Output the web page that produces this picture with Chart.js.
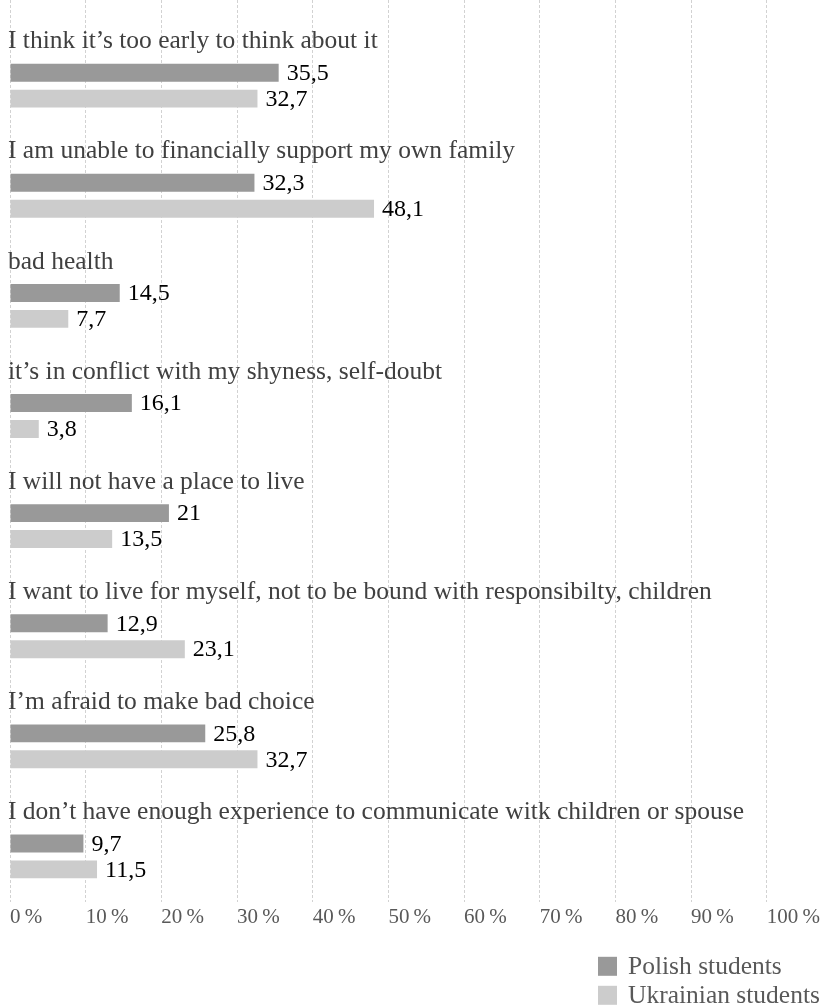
<!DOCTYPE html>
<html>
<head>
<meta charset="utf-8">
<title>Reasons</title>
<script src="https://cdn.jsdelivr.net/npm/chart.js@4/dist/chart.umd.min.js"></script>
<style>
  html, body { margin: 0; padding: 0; background: #fff; }
  #wrap { position: relative; width: 823px; height: 1008px; }
</style>
</head>
<body>
<div id="wrap"><canvas id="reasonsChart"></canvas></div>
<script>
// DATA

const categories = [
  "I think it\u2019s too early to think about it",
  "I am unable to financially support my own family",
  "bad health",
  "it\u2019s in conflict with my shyness, self-doubt",
  "I will not have a place to live",
  "I want to live for myself, not to be bound with responsibilty, children",
  "I\u2019m afraid to make bad choice",
  "I don\u2019t have enough experience to communicate witk children or spouse",
];
const polishStudents = [35.5, 32.3, 14.5, 16.1, 21, 12.9, 25.8, 9.7];
const ukrainianStudents = [32.7, 48.1, 7.7, 3.8, 13.5, 23.1, 32.7, 11.5];
const seriesNames = ["Polish students", "Ukrainian students"];
const seriesColors = ["#999999", "#cccccc"];

const serif = "'Liberation Serif', 'Times New Roman', serif";

// category titles sit above each pair of bars
const categoryTitles = {
  id: "categoryTitles",
  afterDatasetsDraw(chart) {
    const { ctx, chartArea, scales } = chart;
    ctx.save();
    ctx.font = "25.5px " + serif;
    ctx.fillStyle = "#404040";
    ctx.textBaseline = "middle";
    ctx.textAlign = "left";
    categories.forEach((label, i) => {
      ctx.fillText(label, chartArea.left - 2, scales.y.getPixelForValue(i) - 44);
    });
    ctx.restore();
  },
};

// value at the end of every bar, with a decimal comma
const valueLabels = {
  id: "valueLabels",
  afterDatasetsDraw(chart) {
    const { ctx } = chart;
    ctx.save();
    ctx.font = "24px " + serif;
    ctx.fillStyle = "#000000";
    ctx.textBaseline = "middle";
    ctx.textAlign = "left";
    chart.data.datasets.forEach((ds, d) => {
      chart.getDatasetMeta(d).data.forEach((bar, i) => {
        const text = String(ds.data[i].x).replace(".", ",");
        ctx.fillText(text, bar.x + 8, bar.y + 1);
      });
    });
    ctx.restore();
  },
};

// stacked legend in the bottom right corner
const cornerLegend = {
  id: "cornerLegend",
  afterDraw(chart) {
    const { ctx, chartArea } = chart;
    const x = chart.width - 225;
    let y = chartArea.bottom + 55;
    ctx.save();
    ctx.font = "25.5px " + serif;
    ctx.textBaseline = "middle";
    ctx.textAlign = "left";
    chart.data.datasets.forEach((ds) => {
      ctx.fillStyle = ds.backgroundColor;
      ctx.fillRect(x, y, 19, 19);
      ctx.fillStyle = "#595959";
      ctx.fillText(ds.label, x + 30, y + 10);
      y += 29;
    });
    ctx.restore();
  },
};

const ctx = document.getElementById("reasonsChart");

new Chart(ctx, {
  type: "bar",
  data: {
    datasets: [
      {
        label: seriesNames[0],
        data: polishStudents.map((v, i) => ({ x: v, y: i })),
        backgroundColor: seriesColors[0],
        categoryPercentage: 0.4706,
        barPercentage: 0.692,
      },
      {
        label: seriesNames[1],
        data: ukrainianStudents.map((v, i) => ({ x: v, y: i })),
        backgroundColor: seriesColors[1],
        categoryPercentage: 0.4706,
        barPercentage: 0.692,
      },
    ],
  },
  options: {
    indexAxis: "y",
    responsive: true,
    maintainAspectRatio: false,
    animation: false,
    layout: {
      padding: { left: 10, right: 56, top: 0, bottom: 75 },
    },
    scales: {
      x: {
        min: 0,
        max: 100,
        ticks: {
          stepSize: 10,
          align: "start",
          padding: 3,
          color: "#595959",
          font: { family: serif, size: 21 },
          callback: (value) => value + "\u2009%",
        },
        grid: {
          color: "#d2d2d2",
          drawTicks: false,
        },
        border: { display: false, dash: [3, 2] },
      },
      y: {
        type: "linear",
        reverse: true,
        bounds: "data",
        offset: false,
        min: -0.778,
        max: 7.412,
        display: false,
        // one tick per category so the bar width follows the row spacing
        afterBuildTicks: (scale) => {
          scale.ticks = categories.map((c, i) => ({ value: i }));
        },
      },
    },
    plugins: {
      legend: { display: false },
      tooltip: { enabled: false },
    },
  },
  plugins: [categoryTitles, valueLabels, cornerLegend],
});
</script>
</body>
</html>
